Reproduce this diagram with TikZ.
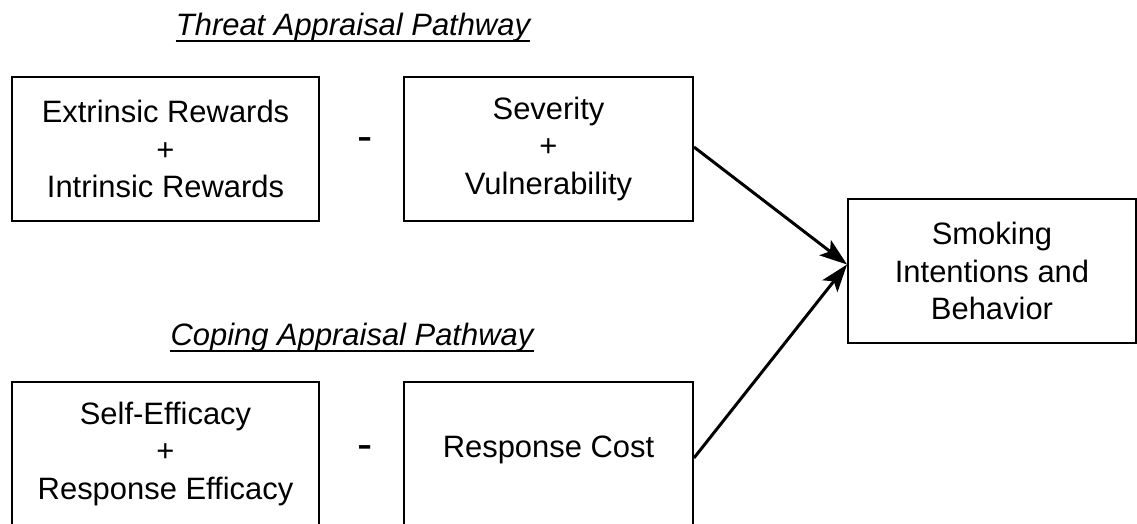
\documentclass[tikz,border=0pt]{standalone}
\usepackage{fontspec}
\setmainfont{Liberation Sans}
\usetikzlibrary{arrows.meta}

\begin{document}
\begin{tikzpicture}[
    x=0.02cm,
    y=-0.02cm,
    box/.style={draw, line width=1.1pt, align=center, inner sep=0pt,
        minimum height=2.88cm, font=\fontsize{17.6}{21.5}\selectfont},
    pathtitle/.style={inner sep=0pt, anchor=base,
        font=\fontsize{17.6}{21.5}\selectfont\itshape},
    minus/.style={inner sep=0pt, anchor=base, font=\fontsize{26}{28}\selectfont},
    uline/.style={line width=1.1pt},
    link/.style={-{Stealth[length=0.55cm, width=0.38cm, inset=0.12cm]}, line width=1.7pt}
]

    % Fix the page size
    \useasboundingbox (0,0) rectangle (1137,524);

    % Threat appraisal pathway
    \node[pathtitle] (threat) at (353,35) {Threat Appraisal Pathway};
    \draw[uline] ([yshift=-0.12cm]threat.base west) -- ([yshift=-0.12cm]threat.base east);
    \node[box, minimum width=6.14cm] (rewards) at (165.5,149) {Extrinsic Rewards\\+\\Intrinsic Rewards};
    \node[minus] (minusA) at (365,151) {-};
    \node[box, minimum width=5.78cm] (severity) at (548.5,149) {Severity\\+\\Vulnerability};

    % Coping appraisal pathway
    \node[pathtitle] (coping) at (352,345) {Coping Appraisal Pathway};
    \draw[uline] ([yshift=-0.12cm]coping.base west) -- ([yshift=-0.12cm]coping.base east);
    \node[box, minimum width=6.14cm] (efficacy) at (165.5,454) {Self-Efficacy\\+\\Response Efficacy};
    \node[minus] (minusB) at (365,459) {-};
    \node[box, minimum width=5.78cm] (cost) at (548.5,454) {\raisebox{0.3cm}{Response Cost}};

    % Outcome
    \node[box, minimum width=5.76cm] (smoking) at (992,271) {Smoking\\Intentions and\\Behavior};
    \coordinate (target) at ([yshift=0.13cm]smoking.west);

    % Draw the pathways
    \draw[link] ([yshift=0.04cm]severity.east) -- (target);
    \draw[link] ([yshift=-0.08cm]cost.east) -- (target);

\end{tikzpicture}
\end{document}
